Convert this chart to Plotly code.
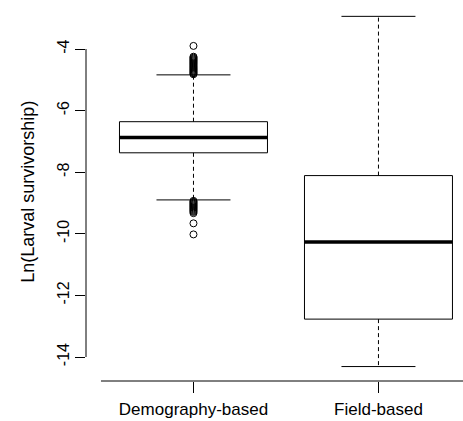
import plotly.graph_objects as go

# ---- data ----
categories = ["Demography-based", "Field-based"]
q1 = [-7.37, -12.77]
median = [-6.87, -10.27]
q3 = [-6.36, -8.11]
lower_whisker = [-8.90, -14.31]
upper_whisker = [-4.84, -2.94]
outliers_demography = [
    -3.90,
    -4.25, -4.28, -4.31, -4.34, -4.37, -4.40, -4.43, -4.46, -4.49, -4.52,
    -4.55, -4.58, -4.61, -4.64, -4.67, -4.70, -4.73, -4.76, -4.79, -4.82,
    -8.93, -8.96, -8.99, -9.02, -9.05, -9.08, -9.11, -9.14, -9.17, -9.20,
    -9.23, -9.26, -9.29, -9.33,
    -9.66, -10.02,
]
outliers_field = []
y_ticks = [-4, -6, -8, -10, -12, -14]
y_ticklabels = ["-4", "-6", "-8", "-10", "-12", "-14"]

# ---- styling ----
FONT = "Liberation Sans, Arial, Helvetica, sans-serif"
BOX_HALF = 0.4
CAP_HALF = 0.2

fig = go.Figure()
positions = [1, 2]
all_outliers = [outliers_demography, outliers_field]

for i, pos in enumerate(positions):
    # dashed whiskers
    for a, b in [(q3[i], upper_whisker[i]), (q1[i], lower_whisker[i])]:
        fig.add_trace(go.Scatter(x=[pos, pos], y=[a, b], mode="lines",
                                 line=dict(color="black", width=1, dash="4px,3px"),
                                 hoverinfo="skip", showlegend=False))
    # whisker caps
    for w in [upper_whisker[i], lower_whisker[i]]:
        fig.add_trace(go.Scatter(x=[pos - CAP_HALF, pos + CAP_HALF], y=[w, w], mode="lines",
                                 line=dict(color="black", width=1),
                                 hoverinfo="skip", showlegend=False))
    # box
    fig.add_trace(go.Scatter(
        x=[pos - BOX_HALF, pos + BOX_HALF, pos + BOX_HALF, pos - BOX_HALF, pos - BOX_HALF],
        y=[q1[i], q1[i], q3[i], q3[i], q1[i]],
        mode="lines", line=dict(color="black", width=1),
        hoverinfo="skip", showlegend=False))
    # median
    fig.add_trace(go.Scatter(x=[pos - BOX_HALF, pos + BOX_HALF], y=[median[i], median[i]],
                             mode="lines", line=dict(color="black", width=3.5),
                             hoverinfo="skip", showlegend=False))
    # outliers
    if all_outliers[i]:
        fig.add_trace(go.Scatter(x=[pos] * len(all_outliers[i]), y=all_outliers[i],
                                 mode="markers",
                                 marker=dict(symbol="circle-open", size=7, color="black",
                                             line=dict(width=1, color="black")),
                                 hoverinfo="skip", showlegend=False))

# axis lines in R style
fig.add_shape(type="line", xref="paper", yref="y", x0=0, x1=0,
              y0=y_ticks[0], y1=y_ticks[-1], line=dict(color="black", width=1))
fig.add_shape(type="line", xref="x", yref="paper", x0=0.5, x1=2.6, y0=0, y1=0,
              line=dict(color="black", width=1))

fig.add_annotation(text="Ln(Larval survivorship)", textangle=-90,
                   xref="paper", yref="paper", x=-0.156, y=0.5,
                   xanchor="center", yanchor="middle", showarrow=False,
                   font=dict(family=FONT, size=18, color="black"))

fig.update_layout(
    width=463, height=421,
    margin=dict(l=86, r=0, t=2, b=40),
    plot_bgcolor="white", paper_bgcolor="white",
    font=dict(family=FONT, size=16, color="black"),
    xaxis=dict(range=[0.419, 2.457], tickvals=positions, ticktext=categories,
               ticks="outside", ticklen=11, tickcolor="black", tickwidth=1,
               ticklabelstandoff=2,
               showgrid=False, zeroline=False, showline=False,
               tickfont=dict(family=FONT, size=17, color="black")),
    yaxis=dict(range=[-14.779, -2.474], tickvals=y_ticks, ticktext=y_ticklabels,
               ticks="outside", ticklen=10, tickcolor="black", tickwidth=1,
               tickangle=-90, showgrid=False, zeroline=False, showline=False,
               tickfont=dict(family=FONT, size=16, color="black")),
)

fig.write_html("out.html")
